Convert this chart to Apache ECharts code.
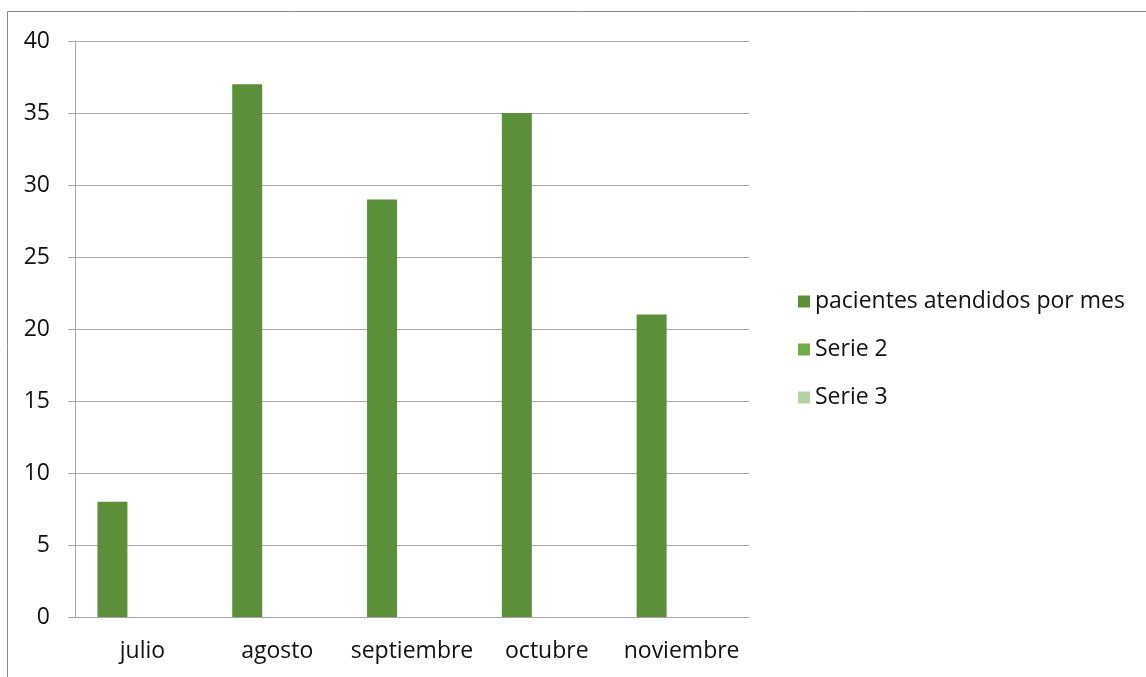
<!DOCTYPE html>
<html>
<head>
<meta charset="utf-8">
<script src="https://cdn.jsdelivr.net/npm/echarts@6/dist/echarts.min.js"></script>
<style>
  html, body { margin: 0; padding: 0; background: #fff; }
  #chart { width: 1146px; height: 677px; }
</style>
</head>
<body>
<div id="chart"></div>
<script>
  // datos
  const months = ['julio', 'agosto', 'septiembre', 'octubre', 'noviembre']
  const seriesNames = ['pacientes atendidos por mes', 'Serie 2', 'Serie 3']
  const pacientes = [8, 37, 29, 35, 21]
  const serie2 = [null, null, null, null, null]
  const serie3 = [null, null, null, null, null]
  const colors = ['#5b8f3a', '#70ad47', '#b4d3a2']

  const chart = echarts.init(document.getElementById('chart'))
  const font = 'Open Sans, DejaVu Sans, sans-serif'

  chart.setOption({
    animation: false,
    color: colors,
    textStyle: { fontFamily: font },
    graphic: [{
      type: 'rect',
      shape: { x: 7.5, y: 11.5, width: 1160, height: 700 },
      style: { fill: 'none', stroke: '#8a8a8a', lineWidth: 1 },
      silent: true
    }],
    grid: {
      left: 75,
      right: 397,
      top: 41,
      bottom: 60,
      containLabel: false
    },
    legend: {
      orient: 'vertical',
      left: 793,
      top: 285,
      itemWidth: 12,
      itemHeight: 12,
      itemGap: 25,
      icon: 'rect',
      data: seriesNames,
      textStyle: { fontSize: 23, color: '#111', fontFamily: font }
    },
    xAxis: {
      type: 'category',
      data: months,
      axisLine: { lineStyle: { color: '#a6a6a6' } },
      axisTick: { length: 8, lineStyle: { color: '#a6a6a6' } },
      axisLabel: { fontSize: 23, color: '#111', margin: 23, interval: 0 }
    },
    yAxis: {
      type: 'value',
      min: 0,
      max: 40,
      interval: 5,
      axisLine: { show: true, lineStyle: { color: '#a6a6a6' } },
      axisTick: { show: true, length: 7, lineStyle: { color: '#a6a6a6' } },
      axisLabel: { fontSize: 23, color: '#111', margin: 25 },
      splitLine: { lineStyle: { color: '#a6a6a6' } }
    },
    series: [
      { name: seriesNames[0], type: 'bar', data: pacientes, barGap: '0%', barCategoryGap: '33.3%' },
      { name: seriesNames[1], type: 'bar', data: serie2, barGap: '0%', barCategoryGap: '33.3%' },
      { name: seriesNames[2], type: 'bar', data: serie3, barGap: '0%', barCategoryGap: '33.3%' }
    ]
  })
</script>
</body>
</html>
